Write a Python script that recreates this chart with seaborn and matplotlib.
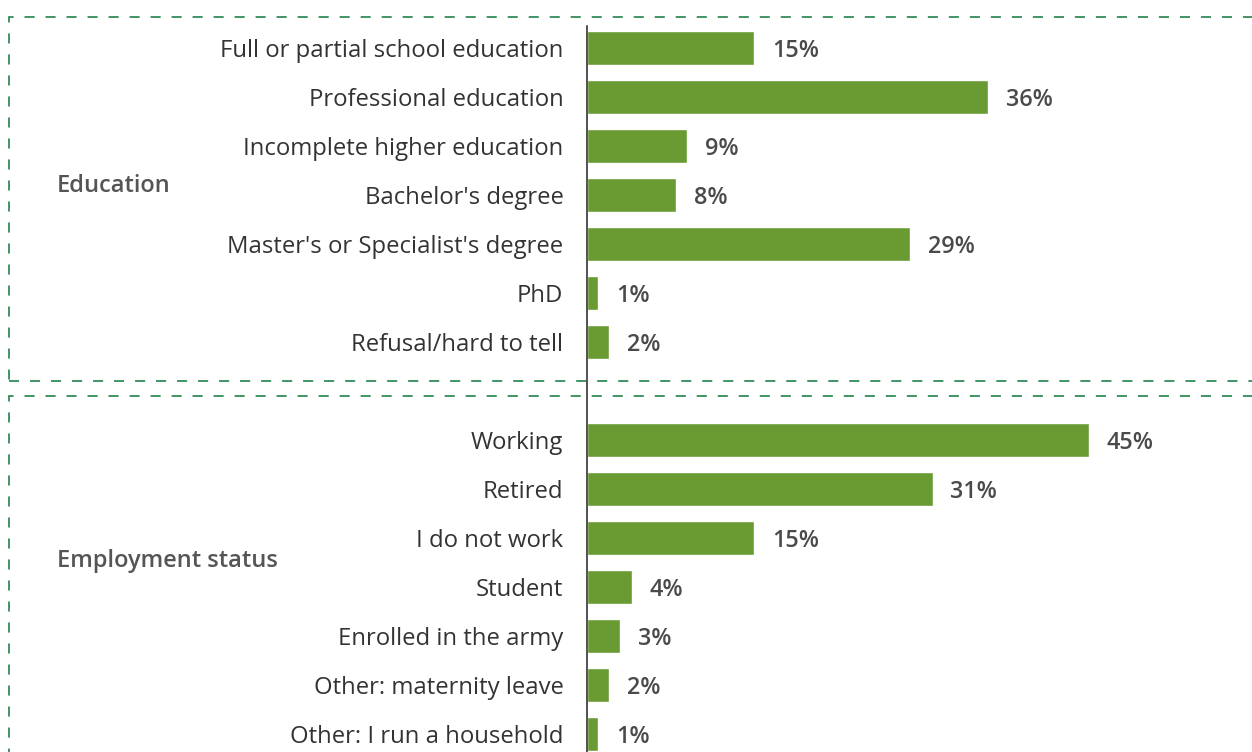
import matplotlib
matplotlib.use("Agg")
import matplotlib.pyplot as plt
from matplotlib.patches import Rectangle
import seaborn as sns
import pandas as pd

# Survey shares by group
education_labels = [
    "Full or partial school education",
    "Professional education",
    "Incomplete higher education",
    "Bachelor's degree",
    "Master's or Specialist's degree",
    "PhD",
    "Refusal/hard to tell",
]
education_values = [15, 36, 9, 8, 29, 1, 2]

employment_labels = [
    "Working",
    "Retired",
    "I do not work",
    "Student",
    "Enrolled in the army",
    "Other: maternity leave",
    "Other: I run a household",
]
employment_values = [45, 31, 15, 4, 3, 2, 1]

group_names = ["Education", "Employment status"]

BAR_COLOR = "#699b32"
BOX_COLOR = "#2a8753"

sns.set_theme(style="white")
plt.rcParams["font.family"] = ["Open Sans", "DejaVu Sans"]

# one empty row between the two groups
positions = list(range(len(education_labels))) + [
    len(education_labels) + 1 + i for i in range(len(employment_labels))
]
labels = education_labels + employment_labels
values = education_values + employment_values
df = pd.DataFrame({"pos": positions, "value": values, "label": labels})

W, H = 1252, 752
fig = plt.figure(figsize=(W / 100, H / 100), dpi=100)

# dashed frames around each group, drawn beneath the bars
for top, bottom in [(17, 381), (396, 800)]:
    rect = Rectangle((9 / W, 1 - bottom / H), (1300 - 9) / W, (bottom - top) / H,
                     transform=fig.transFigure, fill=False, edgecolor=BOX_COLOR,
                     linewidth=1.25, linestyle=(0, (5.8, 6.3)), clip_on=False,
                     zorder=0)
    fig.add_artist(rect)

ax_left = 587 / W
ax = fig.add_axes([ax_left, 0, 1 - ax_left, 1 - 26 / H])
ax.patch.set_visible(False)

sns.barplot(data=df, x="value", y="pos", orient="y", native_scale=True,
            color=BAR_COLOR, saturation=1, width=0.68, ax=ax)

ax.set_xlim(0, (W - 587) / 11.15)
ax.set_ylim(14 + (752 - 734) / 49, -(48 - 26) / 49)

ax.set_yticks(positions)
ax.set_yticklabels(labels, fontsize=17.2, color="#333333")
ax.tick_params(axis="y", length=0, pad=17)
ax.set_xticks([])
ax.set_xlabel("")
ax.set_ylabel("")
for side in ["top", "right", "bottom"]:
    ax.spines[side].set_visible(False)
ax.spines["left"].set_color("#222222")
ax.spines["left"].set_linewidth(1.1)

for p, v in zip(positions, values):
    ax.text(v + 1.6, p, f"{v}%", va="center_baseline", ha="left", fontsize=16.8,
            fontweight="semibold", color="#4a4a4a")

# group titles
fig.text(57 / W, 1 - 183 / H, group_names[0], fontsize=17,
         fontweight="semibold", color="#555555", va="center_baseline", ha="left")
fig.text(57 / W, 1 - 558 / H, group_names[1], fontsize=17,
         fontweight="semibold", color="#555555", va="center_baseline", ha="left")

fig.savefig("out.png", dpi=100)
